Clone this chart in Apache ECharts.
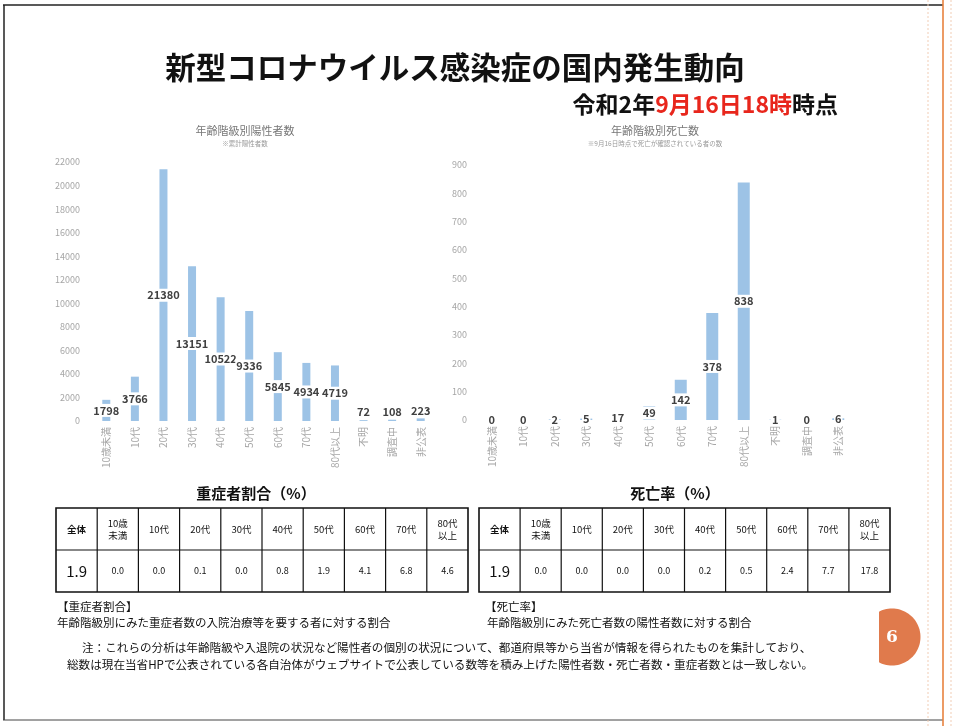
<!DOCTYPE html>
<html>
<head>
<meta charset="utf-8">
<script src="https://cdn.jsdelivr.net/npm/echarts@6/dist/echarts.min.js"></script>
<style>
  html, body { margin: 0; padding: 0; background: #fff; }
  #chart { width: 956px; height: 726px; }
</style>
</head>
<body>
<div id="chart"></div>
<script>
// Age groups shown on both bar charts
var ageGroups = ['10歳未満', '10代', '20代', '30代', '40代', '50代', '60代', '70代', '80代以上', '不明', '調査中', '非公表'];
// Cumulative positive cases by age group
var positives = [1798, 3766, 21380, 13151, 10522, 9336, 5845, 4934, 4719, 72, 108, 223];
// Deaths by age group
var deaths = [0, 0, 2, 5, 17, 49, 142, 378, 838, 1, 0, 6];

// Rate tables
var tableHeaders = ['全体', '10歳\n未満', '10代', '20代', '30代', '40代', '50代', '60代', '70代', '80代\n以上'];
var severeRates = [1.9, 0.0, 0.0, 0.1, 0.0, 0.8, 1.9, 4.1, 6.8, 4.6];
var deathRates = [1.9, 0.0, 0.0, 0.0, 0.0, 0.2, 0.5, 2.4, 7.7, 17.8];

var FONT = '"Noto Sans CJK JP", "Noto Sans", sans-serif';
var BAR_COLOR = '#9dc3e6';

var chart = echarts.init(document.getElementById('chart'), null, { renderer: 'canvas' });

function barData(values, lift) {
  return values.map(function (v) {
    var item = { value: v };
    if (lift && v < 1000) item.label = { offset: [0, -9] };
    return item;
  });
}

// Table drawn as rectangles, lines and text
function buildTable(x0, y0, w, rowH, values) {
  var els = [];
  var n = tableHeaders.length;
  var cw = w / n;
  els.push({ type: 'rect', shape: { x: x0, y: y0, width: w, height: rowH * 2 },
    style: { fill: '#fff', stroke: '#111', lineWidth: 1.6 } });
  els.push({ type: 'line', shape: { x1: x0, y1: y0 + rowH, x2: x0 + w, y2: y0 + rowH },
    style: { stroke: '#111', lineWidth: 1.2 } });
  for (var i = 1; i < n; i++) {
    els.push({ type: 'line', shape: { x1: x0 + cw * i, y1: y0, x2: x0 + cw * i, y2: y0 + rowH * 2 },
      style: { stroke: '#111', lineWidth: 1.2 } });
  }
  for (var j = 0; j < n; j++) {
    var cx = x0 + cw * j + cw / 2;
    els.push({ type: 'text', x: cx, y: y0 + rowH / 2,
      style: { text: tableHeaders[j], font: (j === 0 ? 'bold ' : '') + '9.5px ' + FONT, fill: '#111',
        textAlign: 'center', textVerticalAlign: 'middle', lineHeight: 12 } });
    els.push({ type: 'text', x: cx, y: y0 + rowH * 1.5,
      style: { text: values[j].toFixed(1), font: (j === 0 ? '15px ' : '9px ') + FONT, fill: '#111',
        textAlign: 'center', textVerticalAlign: 'middle' } });
  }
  return els;
}

// Page badge: a disc cut flat on its left side
function badgePoints(cx, cy, r, cutX) {
  var a0 = Math.acos((cutX - cx) / r);
  var out = [];
  for (var m = 0; m <= 60; m++) {
    var t = -a0 + (2 * a0) * m / 60;
    out.push([cx + r * Math.cos(t), cy + r * Math.sin(t)]);
  }
  return out;
}

var graphics = [
  // Slide frame
  { type: 'line', shape: { x1: 3, y1: 5, x2: 943, y2: 5 }, style: { stroke: '#222', lineWidth: 1.5 } },
  { type: 'line', shape: { x1: 4, y1: 5, x2: 4, y2: 720 }, style: { stroke: '#222', lineWidth: 1.5 } },
  { type: 'line', shape: { x1: 3, y1: 720, x2: 943, y2: 720 }, style: { stroke: '#444', lineWidth: 1 } },
  { type: 'line', shape: { x1: 943, y1: 0, x2: 943, y2: 726 }, style: { stroke: '#e8823f', lineWidth: 1.6 } },
  { type: 'line', shape: { x1: 928, y1: 0, x2: 928, y2: 726 }, style: { stroke: '#f1cdb6', lineWidth: 1, lineDash: [2, 2] } },
  { type: 'line', shape: { x1: 951, y1: 0, x2: 951, y2: 726 }, style: { stroke: '#f1cdb6', lineWidth: 1, lineDash: [2, 2] } },

  // Headline
  { type: 'text', x: 455, y: 67,
    style: { text: '新型コロナウイルス感染症の国内発生動向', font: 'bold 30.5px ' + FONT, fill: '#111',
      textAlign: 'center', textVerticalAlign: 'middle' } },
  { type: 'text', x: 838, y: 104,
    style: { text: '{k|令和2年}{r|9月16日18時}{k|時点}', textAlign: 'right', textVerticalAlign: 'middle',
      rich: {
        k: { font: 'bold 23px ' + FONT, fill: '#111' },
        r: { font: 'bold 23px ' + FONT, fill: '#e8261c' }
      } } },

  // Chart captions
  { type: 'text', x: 245, y: 131, style: { text: '年齢階級別陽性者数', font: '11px ' + FONT, fill: '#777',
      textAlign: 'center', textVerticalAlign: 'middle' } },
  { type: 'text', x: 245, y: 144, style: { text: '※累計陽性者数', font: '6.5px ' + FONT, fill: '#999',
      textAlign: 'center', textVerticalAlign: 'middle' } },
  { type: 'text', x: 655, y: 131, style: { text: '年齢階級別死亡数', font: '11px ' + FONT, fill: '#777',
      textAlign: 'center', textVerticalAlign: 'middle' } },
  { type: 'text', x: 655, y: 144, style: { text: '※9月16日時点で死亡が確認されている者の数', font: '6.5px ' + FONT, fill: '#999',
      textAlign: 'center', textVerticalAlign: 'middle' } },

  // Table captions
  { type: 'text', x: 256, y: 493, style: { text: '重症者割合（%）', font: 'bold 15px ' + FONT, fill: '#111',
      textAlign: 'center', textVerticalAlign: 'middle' } },
  { type: 'text', x: 675, y: 493, style: { text: '死亡率（%）', font: 'bold 15px ' + FONT, fill: '#111',
      textAlign: 'center', textVerticalAlign: 'middle' } },

  // Definitions
  { type: 'text', x: 57, y: 607, style: { text: '【重症者割合】', font: '11.5px ' + FONT, fill: '#111', textVerticalAlign: 'middle' } },
  { type: 'text', x: 57, y: 623, style: { text: '年齢階級別にみた重症者数の入院治療等を要する者に対する割合', font: '11.5px ' + FONT, fill: '#111', textVerticalAlign: 'middle' } },
  { type: 'text', x: 485, y: 607, style: { text: '【死亡率】', font: '11.5px ' + FONT, fill: '#111', textVerticalAlign: 'middle' } },
  { type: 'text', x: 487, y: 623, style: { text: '年齢階級別にみた死亡者数の陽性者数に対する割合', font: '11.5px ' + FONT, fill: '#111', textVerticalAlign: 'middle' } },

  // Footnote
  { type: 'text', x: 82, y: 648, style: { text: '注：これらの分析は年齢階級や入退院の状況など陽性者の個別の状況について、都道府県等から当省が情報を得られたものを集計しており、', font: '11.6px ' + FONT, fill: '#111', textVerticalAlign: 'middle' } },
  { type: 'text', x: 67, y: 665, style: { text: '総数は現在当省HPで公表されている各自治体がウェブサイトで公表している数等を積み上げた陽性者数・死亡者数・重症者数とは一致しない。', font: '11.6px ' + FONT, fill: '#111', textVerticalAlign: 'middle' } },

  // Page number badge
  { type: 'polygon', shape: { points: badgePoints(892, 637, 28.5, 879) }, style: { fill: '#e07a4c' } },
  { type: 'text', x: 892, y: 638, style: { text: '6', font: 'bold 17px "DejaVu Serif", serif', fill: '#fff',
      textAlign: 'center', textVerticalAlign: 'middle' } }
];

graphics = graphics.concat(buildTable(56, 508, 412, 42, severeRates));
graphics = graphics.concat(buildTable(479, 508, 411, 42, deathRates));

var axisLabelX = { color: '#a6a6a6', fontSize: 10, rotate: 90, margin: 6, interval: 0, fontFamily: FONT };
var axisLabelY = { color: '#a6a6a6', fontSize: 9, fontFamily: FONT, formatter: function (v) { return String(v); } };
var barLabel = {
  show: true, position: 'inside', color: '#404040', fontWeight: 'bold', fontSize: 11,
  fontFamily: FONT, backgroundColor: '#fff', padding: [1, 1]
};

var option = {
  animation: false,
  backgroundColor: '#fff',
  grid: [
    { left: 92, top: 162, width: 343, bottom: 305 },
    { left: 476, top: 165, width: 378, bottom: 306 }
  ],
  xAxis: [
    { type: 'category', gridIndex: 0, data: ageGroups, axisLine: { show: false }, axisTick: { show: false }, axisLabel: axisLabelX },
    { type: 'category', gridIndex: 1, data: ageGroups, axisLine: { show: false }, axisTick: { show: false }, axisLabel: axisLabelX }
  ],
  yAxis: [
    { type: 'value', gridIndex: 0, min: 0, max: 22000, interval: 2000, splitLine: { show: false },
      axisLabel: Object.assign({ margin: 12 }, axisLabelY) },
    { type: 'value', gridIndex: 1, min: 0, max: 900, interval: 100, splitLine: { show: false },
      axisLabel: Object.assign({ margin: 9 }, axisLabelY) }
  ],
  series: [
    { type: 'bar', xAxisIndex: 0, yAxisIndex: 0, data: barData(positives, true), barWidth: 8,
      itemStyle: { color: BAR_COLOR }, label: barLabel },
    { type: 'bar', xAxisIndex: 1, yAxisIndex: 1, data: barData(deaths, false), barWidth: 12,
      itemStyle: { color: BAR_COLOR }, label: barLabel }
  ],
  graphic: graphics
};

chart.setOption(option);
</script>
</body>
</html>
